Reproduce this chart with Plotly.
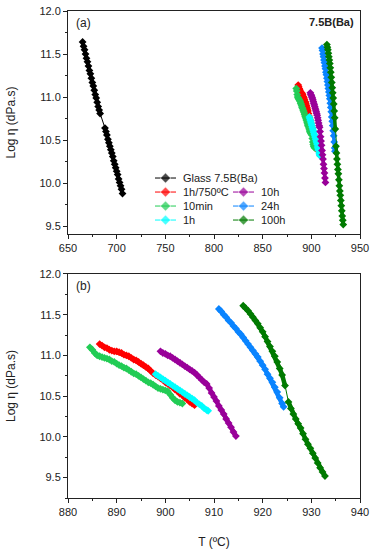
import plotly.graph_objects as go

# ---- data ----
glass_T = [665, 666, 667, 668, 669, 670, 671, 672, 673, 674, 675, 676, 677, 678, 679, 680, 681, 682, 683,
           688, 689, 690, 691, 692, 693, 694, 695, 696, 697, 698, 699, 700, 701, 702, 703, 704, 705, 706]
glass_v = [11.64, 11.59, 11.55, 11.50, 11.45, 11.41, 11.36, 11.31, 11.27, 11.22, 11.17, 11.13, 11.08, 11.03,
           10.99, 10.94, 10.89, 10.85, 10.81,
           10.64, 10.60, 10.56, 10.51, 10.47, 10.43, 10.39, 10.35, 10.31, 10.26, 10.22, 10.18, 10.14, 10.10,
           10.05, 10.01, 9.97, 9.93, 9.88]

h1_750_T = [886.5, 887.0, 887.5, 888.0, 888.5, 889.0, 889.5, 890.0, 890.5, 891.0, 891.5, 892.0, 892.5, 893.0,
            893.5, 894.0, 894.5, 895.0, 895.5, 896.0, 896.5, 897.0, 897.5, 898.0, 898.5, 899.0, 899.5, 900.0,
            900.5, 901.0, 901.5, 902.0, 902.5, 903.0, 903.5, 904.0, 904.5, 905.0, 905.5, 906.0]
h1_750_v = [11.14, 11.12, 11.10, 11.09, 11.07, 11.06, 11.05, 11.05, 11.04, 11.03, 11.01, 11.00, 10.99, 10.97,
            10.95, 10.94, 10.92, 10.90, 10.88, 10.86, 10.84, 10.81, 10.78, 10.76, 10.74, 10.72, 10.70, 10.67,
            10.65, 10.63, 10.61, 10.58, 10.56, 10.53, 10.51, 10.48, 10.46, 10.43, 10.41, 10.39]

min10_T = [884.5, 885.0, 885.5, 886.0, 886.5, 887.0, 887.5, 888.0, 888.5, 889.0, 889.5, 890.0, 890.5, 891.0,
           891.5, 892.0, 892.5, 893.0, 893.5, 894.0, 894.5, 895.0, 895.5, 896.0, 896.5, 897.0, 897.5, 898.0,
           898.5, 899.0, 899.5, 900.0, 900.5, 901.0, 901.5, 902.0, 902.5, 903.0, 903.5]
min10_v = [11.10, 11.07, 11.03, 11.00, 10.99, 10.98, 10.97, 10.96, 10.95, 10.93, 10.92, 10.90, 10.88, 10.87,
           10.85, 10.84, 10.82, 10.80, 10.78, 10.77, 10.75, 10.73, 10.71, 10.69, 10.67, 10.66, 10.64, 10.62,
           10.60, 10.59, 10.58, 10.57, 10.56, 10.52, 10.48, 10.45, 10.43, 10.42, 10.41]

h1_T = [898.0, 898.5, 899.0, 899.5, 900.0, 900.5, 901.0, 901.5, 902.0, 902.5, 903.0, 903.5, 904.0, 904.5,
        905.0, 905.5, 906.0, 906.5, 907.0, 907.5, 908.0, 908.5, 908.8]
h1_v = [10.77, 10.75, 10.73, 10.71, 10.69, 10.67, 10.65, 10.63, 10.61, 10.59, 10.57, 10.55, 10.53, 10.51,
        10.49, 10.47, 10.45, 10.42, 10.40, 10.38, 10.35, 10.33, 10.32]

h10_T = [899.0, 899.5, 900.0, 900.5, 901.0, 901.5, 902.0, 902.5, 903.0, 903.5, 904.0, 904.5, 905.0, 905.5,
         906.0, 906.5, 907.0, 907.5, 908.0, 908.5, 909.0, 909.5, 910.0, 910.5, 911.0, 911.5, 912.0, 912.5,
         913.0, 913.5, 914.0, 914.5]
h10_v = [11.05, 11.03, 11.02, 11.00, 10.99, 10.97, 10.95, 10.93, 10.91, 10.89, 10.87, 10.85, 10.83, 10.81,
         10.79, 10.76, 10.73, 10.70, 10.67, 10.65, 10.60, 10.54, 10.49, 10.44, 10.38, 10.33, 10.28, 10.22,
         10.17, 10.12, 10.06, 10.01]

h24_T = [911.0, 911.5, 912.0, 912.5, 913.0, 913.5, 914.0, 914.5, 915.0, 915.5, 916.0, 916.5, 917.0, 917.5,
         918.0, 918.5, 919.0, 919.5, 920.0, 920.5, 921.0, 921.5, 922.0, 922.5, 923.0, 923.5, 924.0, 924.3]
h24_v = [11.57, 11.54, 11.50, 11.47, 11.43, 11.40, 11.36, 11.33, 11.29, 11.26, 11.22, 11.18, 11.14, 11.10,
         11.06, 11.02, 10.98, 10.93, 10.88, 10.83, 10.77, 10.72, 10.67, 10.61, 10.55, 10.48, 10.41, 10.37]

h100_T = [916.0, 916.5, 917.0, 917.5, 918.0, 918.5, 919.0, 919.5, 920.0, 920.5, 921.0, 921.5, 922.0, 922.5,
          923.0, 923.5, 924.0, 924.6,
          925.3, 925.8, 926.3, 926.8, 927.3, 927.8, 928.3, 928.8, 929.3, 929.8, 930.3, 930.8, 931.3, 931.8,
          932.3, 932.8]
h100_v = [11.61, 11.58, 11.55, 11.51, 11.47, 11.43, 11.39, 11.34, 11.29, 11.23, 11.17, 11.11, 11.05, 10.99,
          10.92, 10.84, 10.76, 10.63,
          10.43, 10.35, 10.28, 10.22, 10.16, 10.11, 10.04, 9.97, 9.91, 9.86, 9.80, 9.74, 9.68, 9.62,
          9.57, 9.52]

series_names = ["Glass 7.5B(Ba)", "1h/750ºC", "10min", "1h", "10h", "24h", "100h"]
series_T = [glass_T, h1_750_T, min10_T, h1_T, h10_T, h24_T, h100_T]
series_v = [glass_v, h1_750_v, min10_v, h1_v, h10_v, h24_v, h100_v]
series_colors = ["#000000", "#ff0000", "#22cc55", "#00ffff", "#990099", "#0a84ff", "#007a00"]
# legend layout: (column, row) of each entry
legend_slots = [(0, 0), (0, 1), (0, 2), (0, 3), (1, 1), (1, 2), (1, 3)]

FONT = "Arial, Liberation Sans, sans-serif"
TXT = "#222"


def with_breaks(T, v):
    """Insert None where the measured points have a gap, so the thick band breaks there."""
    steps = sorted(T[i + 1] - T[i] for i in range(len(T) - 1))
    med = steps[len(steps) // 2]
    xs, ys = [T[0]], [v[0]]
    for i in range(1, len(T)):
        if T[i] - T[i - 1] > 1.3 * med:
            xs.append(None)
            ys.append(None)
        xs.append(T[i])
        ys.append(v[i])
    return xs, ys


fig = go.Figure()
for name, T, v, col in zip(series_names, series_T, series_v, series_colors):
    bx, by = with_breaks(T, v)
    panels = [("x", "y", 3.5, 6)]
    if name != "Glass 7.5B(Ba)":
        panels.append(("x2", "y2", 4.5, 6))
    for xa, ya, lw, ms in panels:
        # thick band under the markers
        fig.add_trace(go.Scatter(x=bx, y=by, mode="lines", connectgaps=False,
                                 line=dict(color=col, width=lw), xaxis=xa, yaxis=ya,
                                 showlegend=False, hoverinfo="skip"))
        # thin connecting line + diamond markers
        fig.add_trace(go.Scatter(x=T, y=v, name=name, mode="lines+markers",
                                 line=dict(color=col, width=1),
                                 marker=dict(symbol="diamond", size=ms, color=col),
                                 xaxis=xa, yaxis=ya, showlegend=False))

# ---- hand-built legend on an overlay axis measured in pixels ----
LEG_X0 = [155, 233]      # left end of symbol line per column (px)
LEG_LINE = 21            # symbol line length (px)
LEG_Y0 = 178             # first row centre (px from top)
LEG_DY = 14              # row spacing (px)
annotations = []
for name, col, (c, r) in zip(series_names, series_colors, legend_slots):
    x0 = LEG_X0[c]
    yy = LEG_Y0 + r * LEG_DY
    fig.add_trace(go.Scatter(
        x=[x0, x0 + LEG_LINE / 2, x0 + LEG_LINE], y=[yy, yy, yy], mode="lines+markers",
        line=dict(color=col, width=1), marker=dict(symbol="diamond", size=[0, 8, 0], color=col),
        xaxis="x3", yaxis="y3", showlegend=False, hoverinfo="skip"))
    annotations.append(dict(text=name, xref="x3", yref="y3", x=x0 + LEG_LINE + 5, y=yy,
                            xanchor="left", yanchor="middle", showarrow=False,
                            font=dict(family=FONT, size=11, color=TXT)))

axis_common = dict(
    showline=True, linecolor=TXT, linewidth=1, mirror=True, automargin=False,
    ticks="outside", ticklen=4, tickcolor=TXT, showgrid=False, zeroline=False,
    tickfont=dict(family=FONT, size=11, color=TXT),
)

annotations += [
    dict(text="(a)", xref="x domain", yref="y domain", x=0.02, y=0.985, xanchor="left", yanchor="top",
         showarrow=False, font=dict(family=FONT, size=12, color=TXT)),
    dict(text="<b>7.5B(Ba)</b>", xref="x domain", yref="y domain", x=0.985, y=0.985, xanchor="right",
         yanchor="top", showarrow=False, font=dict(family=FONT, size=11, color=TXT)),
    dict(text="(b)", xref="x2 domain", yref="y2 domain", x=0.02, y=0.985, xanchor="left", yanchor="top",
         showarrow=False, font=dict(family=FONT, size=12, color=TXT)),
]

fig.update_layout(
    width=373, height=550,
    margin=dict(l=68, r=13, t=11, b=52, autoexpand=False),
    paper_bgcolor="white", plot_bgcolor="white",
    font=dict(family=FONT, color=TXT),
    showlegend=False,
    xaxis=dict(domain=[0, 1], anchor="y", range=[650, 950], dtick=50,
               minor=dict(ticks="outside", ticklen=2, dtick=25, tickcolor=TXT), **axis_common),
    yaxis=dict(domain=[0.542, 1], anchor="x", range=[9.41, 12.0], tick0=9.5, dtick=0.5, tickformat=".1f",
               minor=dict(ticks="outside", ticklen=2, dtick=0.25, tickcolor=TXT),
               title=dict(text="Log η (dPa.s)", font=dict(family=FONT, size=12, color=TXT), standoff=21),
               **axis_common),
    xaxis2=dict(domain=[0, 1], anchor="y2", range=[880, 940], dtick=10,
                minor=dict(ticks="outside", ticklen=2, dtick=5, tickcolor=TXT),
                title=dict(text="T (ºC)", font=dict(family=FONT, size=12, color=TXT), standoff=20),
                **axis_common),
    yaxis2=dict(domain=[0, 0.46], anchor="x2", range=[9.25, 12.0], tick0=9.5, dtick=0.5, tickformat=".1f",
                minor=dict(ticks="outside", ticklen=2, dtick=0.25, tickcolor=TXT),
                title=dict(text="Log η (dPa.s)", font=dict(family=FONT, size=12, color=TXT), standoff=21),
                **axis_common),
    xaxis3=dict(overlaying="x", anchor="y3", range=[68, 360], visible=False, fixedrange=True),
    yaxis3=dict(overlaying="y", anchor="x3", range=[234, 11], visible=False, fixedrange=True),
    annotations=annotations,
)

fig.write_html("out.html", config={"displayModeBar": False},
               post_script="document.body.style.margin='0px';")
